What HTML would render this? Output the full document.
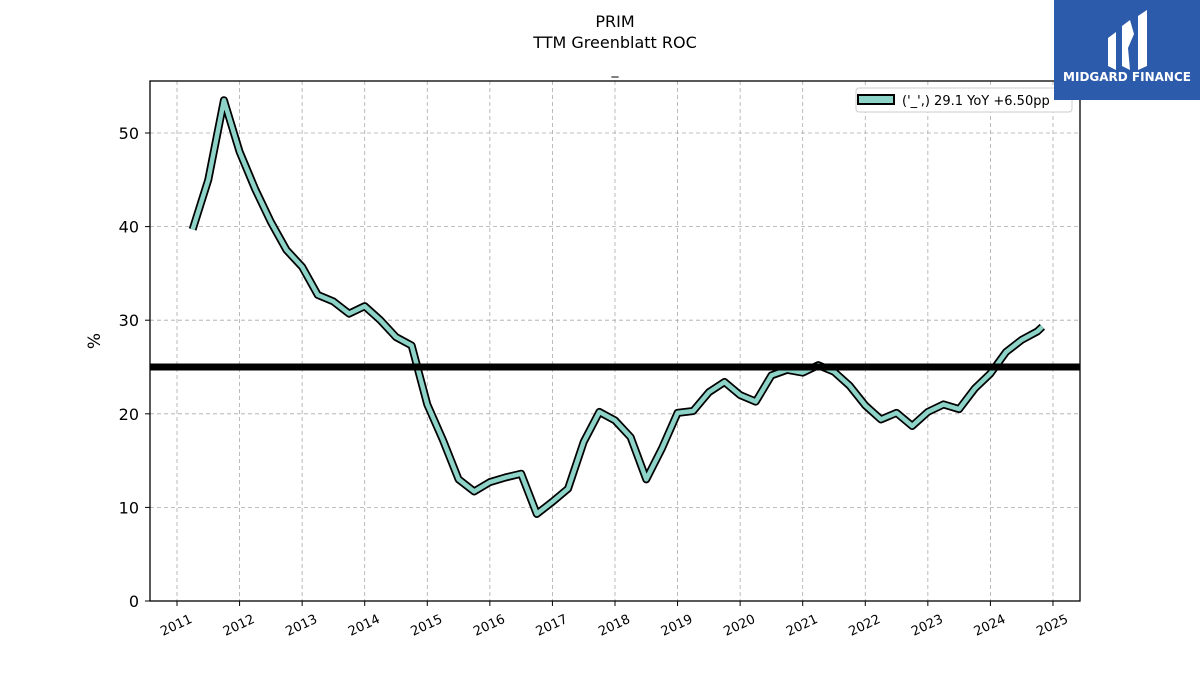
<!DOCTYPE html>
<html><head><meta charset="utf-8"><style>
body{margin:0;background:#fff;}
svg{display:block;font-family:"DejaVu Sans","Liberation Sans",sans-serif;}
</style></head><body>
<svg id="chart" width="1200" height="675" viewBox="0 0 1200 675">
<rect width="1200" height="675" fill="#fff"/>
<text x="615" y="27" text-anchor="middle" font-size="16">PRIM</text>
<text x="615" y="48" text-anchor="middle" font-size="16">TTM Greenblatt ROC</text>
<text x="615" y="74" text-anchor="middle" font-size="14">_</text>
<g id="grid"></g>
<g id="marks"></g>
<rect x="150" y="81" width="930" height="520" fill="none" stroke="#000" stroke-width="1.3"/>
<g id="axes"></g>
<text transform="translate(100,341) rotate(-90)" text-anchor="middle" font-size="17">%</text>
<g>
<rect x="856" y="88" width="216" height="24" rx="3" fill="#fff" stroke="#ccc"/>
<rect x="858" y="95" width="36" height="9" fill="#8dd3c7" stroke="#000" stroke-width="2"/>
<text x="902" y="105" font-size="13">('_',) 29.1 YoY +6.50pp</text>
</g>
<g>
<rect x="1054" y="0" width="146" height="100" fill="#2d5bab"/>
<path d="M1108 38 L1116 32 L1116 70 L1108 66 Z" fill="#fff"/>
<path d="M1122 26 L1130 20 L1134 34 L1128 48 L1130 70 L1122 66 Z" fill="#fff"/>
<path d="M1138 16 L1147 10 L1147 66 L1138 70 Z" fill="#fff"/>
<text x="1127" y="81" text-anchor="middle" font-size="12" font-weight="bold" fill="#fff">MIDGARD FINANCE</text>
</g>
</svg>
<script>
const quarters=[2011.25,2011.5,2011.75,2012,2012.25,2012.5,2012.75,2013,2013.25,2013.5,2013.75,2014,2014.25,2014.5,2014.75,2015,2015.25,2015.5,2015.75,2016,2016.25,2016.5,2016.75,2017,2017.25,2017.5,2017.75,2018,2018.25,2018.5,2018.75,2019,2019.25,2019.5,2019.75,2020,2020.25,2020.5,2020.75,2021,2021.25,2021.5,2021.75,2022,2022.25,2022.5,2022.75,2023,2023.25,2023.5,2023.75,2024,2024.25,2024.5,2024.75,2024.83];
const rocValues=[39.7,45,53.5,48,44,40.5,37.5,35.7,32.7,32,30.7,31.5,30,28.2,27.3,21,17.2,13,11.7,12.7,13.2,13.6,9.3,10.6,12,17,20.2,19.3,17.5,13,16.3,20.1,20.3,22.3,23.4,22,21.3,24.1,24.7,24.4,25.2,24.5,23,20.9,19.4,20.1,18.7,20.2,21,20.5,22.7,24.3,26.6,27.9,28.8,29.3];
const yTicks=[0,10,20,30,40,50];
const xTicks=[2011,2012,2013,2014,2015,2016,2017,2018,2019,2020,2021,2022,2023,2024,2025];
const refLevel=[25];
const NS="http://www.w3.org/2000/svg";
function xs(v){return 177+(v-2011)*62.57;}
function ys(v){return 601-v*9.36;}
function mk(tag,attrs,parent){const e=document.createElementNS(NS,tag);for(const k in attrs)e.setAttribute(k,attrs[k]);parent.appendChild(e);return e;}
const grid=document.getElementById('grid'),axes=document.getElementById('axes'),marks=document.getElementById('marks');
yTicks.forEach(t=>{
 const g=mk('line',{x1:150,x2:1080,y1:ys(t),y2:ys(t),stroke:'#aaa','stroke-dasharray':'4,3','stroke-width':0.8},grid);
 
 
 mk('line',{x1:145,x2:150,y1:ys(t),y2:ys(t),stroke:'#000'},axes);
 const l=mk('text',{x:139,y:ys(t)+6,'text-anchor':'end','font-size':16},axes);
 l.textContent=t;
 
 
});
xTicks.forEach(t=>{
 const g=mk('line',{x1:xs(t),x2:xs(t),y1:81,y2:601,stroke:'#aaa','stroke-dasharray':'4,3','stroke-width':0.8},grid);
 
 
 mk('line',{x1:xs(t),x2:xs(t),y1:601,y2:606,stroke:'#000'},axes);
 const l=mk('text',{x:xs(t)+16,y:622,'text-anchor':'end','font-size':13,transform:`rotate(-25 ${xs(t)+16} 622)`},axes);
 l.textContent=t;
 
 
});
const pts=quarters.map((q,i)=>xs(q)+','+ys(rocValues[i])).join(' ');
const o=mk('polyline',{points:pts,fill:'none',stroke:'#000','stroke-width':8,'stroke-linejoin':'round'},marks);


const ln=mk('polyline',{points:pts,fill:'none',stroke:'#8dd3c7','stroke-width':4.5,'stroke-linejoin':'round'},marks);


const r=mk('line',{x1:150,x2:1080,y1:ys(refLevel[0]),y2:ys(refLevel[0]),stroke:'#000','stroke-width':7},marks);


</script>
</body></html>
